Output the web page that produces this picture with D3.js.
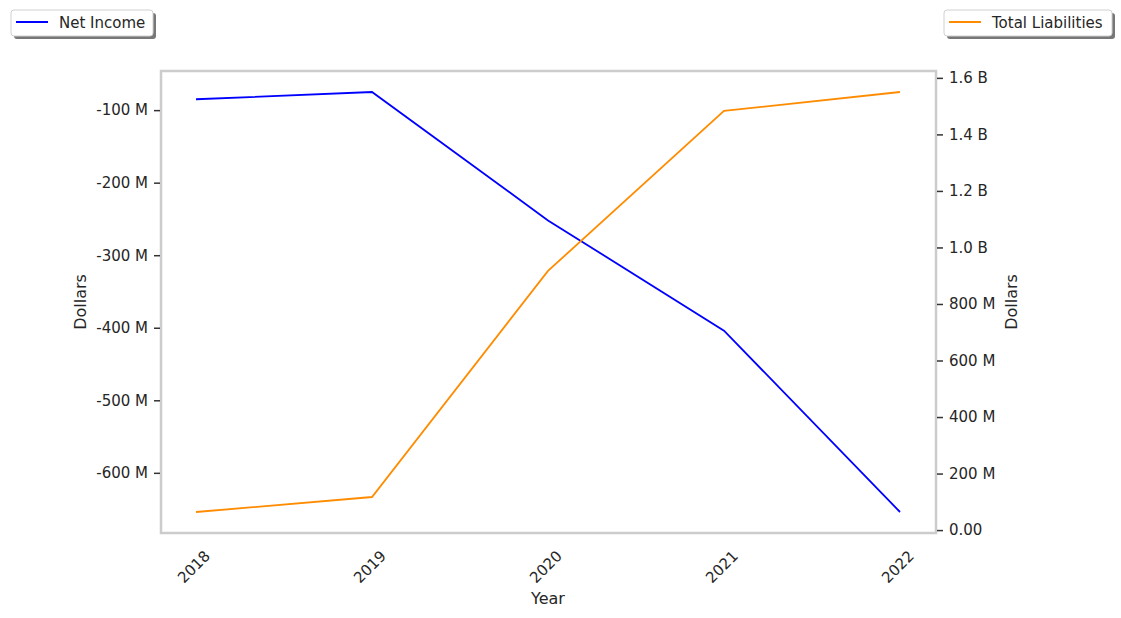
<!DOCTYPE html>
<html><head><meta charset="utf-8">
<script src="https://cdn.jsdelivr.net/npm/d3@7"></script>
<style>body{margin:0;background:#fff;font-family:"DejaVu Sans",sans-serif;}</style>
</head><body><svg id="c" width="1121" height="618"></svg>
<script>
const years = ["2018","2019","2020","2021","2022"];
const netIncome = [-85e6, -75e6, -252e6, -404e6, -654e6];
const totalLiabilities = [64e6, 117e6, 917e6, 1483e6, 1550e6];
const leftTicks = [-100e6,-200e6,-300e6,-400e6,-500e6,-600e6];
const rightTicks = [0,200e6,400e6,600e6,800e6,1000e6,1200e6,1400e6,1600e6];

const svg = d3.select("#c");
const L=161, R=936, T=71, B=533;
const textColor="#262626";
const fs=15;

const x = d3.scalePoint().domain(years).range([196,900]);
function padDomain(vals){const mn=d3.min(vals),mx=d3.max(vals),p=(mx-mn)*0.05;return [mn-p,mx+p];}
const yL = d3.scaleLinear().domain(padDomain(netIncome)).range([B,T]);
const yR = d3.scaleLinear().domain(padDomain(totalLiabilities)).range([B,T]);

const fmtL = v => (v/1e6)+" M";
const fmtR = v => v===0 ? "0.00" : (Math.abs(v)>=1e9 ? (v/1e9).toFixed(1)+" B" : (v/1e6)+" M");

// frame
svg.append("rect").attr("x",L).attr("y",T).attr("width",R-L).attr("height",B-T)
  .attr("fill","#fff").attr("stroke","#cccccc").attr("stroke-width",2.5);

// left axis
const gL = svg.append("g").attr("transform",`translate(${L-1},0)`)
  .call(d3.axisLeft(yL).tickValues(leftTicks).tickFormat(fmtL).tickSize(6).tickPadding(6));
gL.select(".domain").remove();
// right axis
const gR = svg.append("g").attr("transform",`translate(${R+1},0)`)
  .call(d3.axisRight(yR).tickValues(rightTicks).tickFormat(fmtR).tickSize(6).tickPadding(6));
gR.select(".domain").remove();
[gL,gR].forEach(g=>{
  g.selectAll("line").attr("stroke","#333").attr("stroke-width",1.5);
  g.selectAll("text").attr("fill",textColor).style("font-size",fs+"px").style("font-family","DejaVu Sans");
});

// x axis labels
const gX = svg.append("g");
gX.selectAll("text").data(years).enter().append("text")
  .attr("transform",d=>`translate(${x(d)+7},${B+16}) rotate(-45)`)
  .attr("text-anchor","end").attr("dy","0.75em")
  .attr("fill",textColor).style("font-size",fs+"px").text(d=>d);

// axis titles
svg.append("text").attr("x",548).attr("y",604).attr("text-anchor","middle")
  .attr("fill",textColor).style("font-size","16px").text("Year");
svg.append("text").attr("transform","translate(86,302) rotate(-90)").attr("text-anchor","middle")
  .attr("fill",textColor).style("font-size","16px").text("Dollars");
svg.append("text").attr("transform","translate(1017,302) rotate(-90)").attr("text-anchor","middle")
  .attr("fill",textColor).style("font-size","16px").text("Dollars");

// lines
const lineL = d3.line().x((d,i)=>x(years[i])).y(d=>yL(d));
const lineR = d3.line().x((d,i)=>x(years[i])).y(d=>yR(d));
svg.append("path").datum(netIncome).attr("d",lineL).attr("fill","none").attr("stroke","#0000ff").attr("stroke-width",1.8);
svg.append("path").datum(totalLiabilities).attr("d",lineR).attr("fill","none").attr("stroke","#ff8c00").attr("stroke-width",1.8);

// legends
function legend(x0,y0,w,label,color){
  const g=svg.append("g");
  g.append("rect").attr("x",x0+3).attr("y",y0+3).attr("width",w).attr("height",26).attr("rx",3).attr("fill","#777");
  g.append("rect").attr("x",x0).attr("y",y0).attr("width",w).attr("height",26).attr("rx",3).attr("fill","#fff").attr("stroke","#d0d0d0");
  g.append("line").attr("x1",x0+5).attr("x2",x0+37).attr("y1",y0+12).attr("y2",y0+12).attr("stroke",color).attr("stroke-width",2);
  g.append("text").attr("x",x0+48).attr("y",y0+18).attr("fill",textColor).style("font-size","15px").text(label);
}
legend(11,10,142,"Net Income","#0000ff");
legend(944,10,168,"Total Liabilities","#ff8c00");
</script></body></html>
